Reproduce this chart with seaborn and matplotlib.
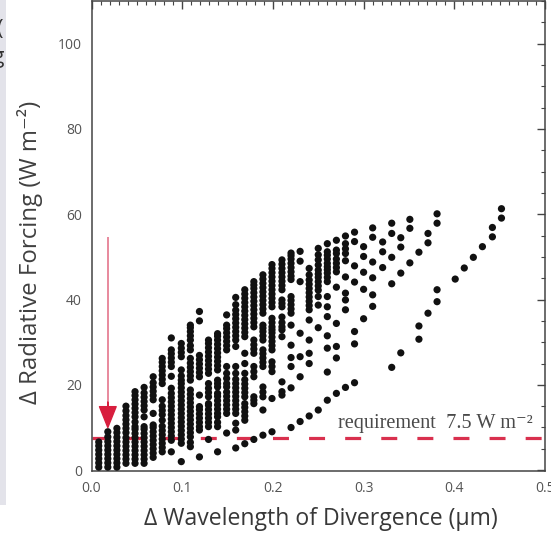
import matplotlib
matplotlib.use('Agg')
import matplotlib.pyplot as plt
import seaborn as sns
import pandas as pd
from matplotlib.patches import Rectangle
from matplotlib.ticker import MultipleLocator

# ---- data: column positions (Δ wavelength of divergence, µm) ----
column_x = [0.008, 0.018, 0.028, 0.038, 0.048, 0.058, 0.068, 0.078, 0.088, 0.099,
            0.109, 0.119, 0.129, 0.139, 0.149, 0.159, 0.169, 0.179, 0.189, 0.199,
            0.210, 0.220, 0.230, 0.240, 0.250, 0.260, 0.270, 0.280, 0.290, 0.300,
            0.310, 0.321, 0.331, 0.341, 0.351, 0.361, 0.371, 0.381, 0.391, 0.401,
            0.411, 0.421, 0.431, 0.442, 0.452]

# ---- Δ radiative forcing values (W m-2) for each column ----
f00 = [0.7, 1.7, 2.7, 3.7, 4.7, 5.7, 6.6]
f01 = [0.7, 1.7, 2.7, 3.7, 4.7, 5.7, 6.7, 7.8, 9.0]
f02 = [0.7, 1.7, 2.7, 3.7, 4.7, 5.7, 6.7, 7.7, 8.8, 9.8]
f03 = [1.6, 2.6, 3.6, 4.6, 5.6, 6.6, 7.6, 8.8, 9.8, 10.8, 11.8, 12.8, 13.9, 15.0]
f04 = [1.6, 2.6, 3.6, 4.6, 5.6, 6.6, 7.6, 8.6, 9.6, 10.2, 11.3, 12.5, 13.5, 14.5, 15.5, 16.5, 17.5, 18.4]
f05 = [1.6, 2.6, 3.6, 4.6, 5.6, 6.6, 7.6, 8.6, 9.6, 10.2, 12.5, 14.1, 15.1, 16.1, 17.1, 18.1, 19.4]
f06 = [3.0, 4.0, 5.0, 6.0, 7.0, 8.0, 9.0, 10.0, 10.6, 13.3, 16.5, 17.5, 18.5, 19.5, 20.5, 21.9]
f07 = [4.3, 5.3, 6.3, 7.3, 8.3, 9.3, 10.3, 11.7, 13.0, 14.0, 15.0, 16.5, 20.3, 21.3, 22.3, 23.3, 24.3, 25.3, 26.2]
f08 = [4.3, 7.0, 8.0, 9.0, 10.0, 11.0, 12.0, 13.0, 14.0, 15.0, 16.0, 17.0, 18.0, 19.2, 22.0, 24.3, 25.3, 26.3, 27.3, 28.2, 31.0]
f09 = [2.0, 6.3, 7.3, 8.3, 9.3, 10.3, 11.3, 12.3, 13.3, 14.3, 15.3, 16.3, 17.3, 18.3, 19.3, 20.3, 21.1, 22.1, 23.5,
       26.6, 27.6, 28.6, 29.7]
f10 = [5.5, 6.5, 7.8, 8.8, 9.8, 10.8, 11.8, 12.8, 13.8, 14.8, 15.8, 16.8, 17.8, 18.8, 21.1, 22.1, 23.1, 24.1, 25.1,
       26.2, 28.2, 29.2, 30.5, 31.5, 32.5, 33.4, 34.0]
f11 = [3.1, 9.4, 10.2, 11.2, 12.2, 13.2, 14.2, 14.9, 17.6, 21.9, 22.9, 23.9, 24.9, 25.9, 26.9, 35.0, 37.2]
f12 = [7.2, 10.2, 11.2, 12.2, 13.2, 14.2, 15.2, 15.6, 17.2, 18.2, 19.2, 20.3, 22.7, 23.7, 24.7, 25.7, 26.7, 27.7,
       28.7, 29.7, 30.5]
f13 = [4.3, 10.2, 11.2, 12.5, 13.3, 14.3, 15.3, 16.3, 17.3, 18.0, 19.5, 20.3, 21.1, 23.5, 24.5, 25.5, 26.5, 27.5,
       28.5, 29.5, 30.5, 31.4, 32.0]
f14 = [8.7, 13.3, 14.3, 15.3, 16.3, 17.3, 18.3, 19.5, 20.3, 21.5, 22.7, 24.3, 28.2, 29.2, 30.2, 31.2, 32.2, 33.2,
       34.0, 36.4]
f15 = [5.2, 9.4, 11.0, 13.3, 14.3, 15.3, 16.3, 17.3, 18.3, 19.3, 20.3, 21.3, 22.7, 24.3, 29.0, 30.5, 31.5, 32.5,
       33.5, 34.5, 35.5, 36.5, 37.5, 38.8, 40.5]
f16 = [6.2, 11.7, 12.7, 13.7, 14.7, 15.6, 17.2, 18.2, 19.2, 20.2, 21.2, 22.7, 25.0, 27.4, 31.3, 32.3, 33.3, 34.3,
       35.3, 36.3, 37.3, 38.3, 39.3, 40.3, 41.3, 42.3]
f17 = [7.2, 15.6, 16.4, 17.2, 21.9, 23.1, 24.3, 27.4, 28.4, 29.4, 30.5, 33.6, 34.6, 35.6, 36.6, 37.6, 38.6, 39.6,
       40.6, 41.6, 42.6, 43.4, 44.2]
f18 = [8.2, 14.1, 17.2, 18.3, 19.5, 24.3, 25.3, 26.3, 27.3, 28.2, 30.5, 31.5, 32.5, 33.3, 34.0, 36.8, 37.8, 38.8,
       39.8, 40.8, 41.8, 42.8, 43.8, 44.8, 45.8]
f19 = [9.0, 16.8, 23.1, 24.3, 25.4, 28.2, 29.2, 30.2, 31.2, 32.2, 32.9, 33.6, 34.6, 35.6, 38.3, 39.3, 40.3, 41.3,
       42.3, 43.3, 44.3, 45.3, 46.3, 47.3, 48.2]
f20 = [17.6, 18.4, 20.7, 31.3, 32.9, 33.6, 34.6, 35.9, 38.3, 39.1, 39.9, 42.3, 43.3, 44.3, 45.3, 46.3, 47.3, 48.3, 49.3]
f21 = [10.0, 19.3, 24.3, 26.4, 29.3, 34.0, 36.8, 37.8, 38.8, 39.8, 40.7, 44.7, 45.5, 46.5, 47.5, 48.5, 49.5, 50.3, 50.9]
f22 = [11.4, 21.9, 26.6, 32.1, 44.2, 49.0, 51.3]
f23 = [12.7, 25.0, 27.4, 30.5, 35.2, 37.6, 38.6, 39.6, 40.6, 41.6, 42.6, 43.6, 44.6, 45.8, 47.3]
f24 = [14.1, 33.4, 38.7, 40.7, 42.2, 43.2, 44.2, 45.2, 46.0, 46.9, 48.1, 49.3, 50.5, 52.0]
f25 = [16.4, 23.0, 28.6, 31.5, 36.0, 38.3, 40.7, 44.2, 45.2, 46.2, 47.0, 47.7, 48.5, 49.5, 50.4, 51.2, 53.1]
f26 = [18.0, 26.3, 29.0, 34.4, 42.9, 46.5, 47.5, 48.5, 49.5, 50.8, 51.6, 53.9]
f27 = [19.4, 37.6, 39.9, 41.5, 45.3, 49.1, 50.8, 51.9, 53.1, 54.9]
f28 = [20.5, 29.6, 32.5, 44.1, 47.9, 53.6, 55.8]
f29 = [35.5, 42.4, 46.4, 50.1, 52.4]
f30 = [38.4, 41.1, 45.1, 48.8, 54.6, 56.8]
f31 = [47.5, 51.2, 53.5]
f32 = [24.1, 43.7, 49.9, 55.5, 57.9]
f33 = [27.5, 46.2, 52.3, 54.5]
f34 = [48.6, 56.7, 58.8]
f35 = [30.7, 33.8, 51.1]
f36 = [36.8, 53.3, 55.5]
f37 = [39.5, 42.3, 57.9, 60.1]
f38 = []
f39 = [44.8]
f40 = [47.4]
f41 = [49.9]
f42 = [52.4]
f43 = [54.7, 56.9]
f44 = [59.1, 61.3]

requirement_value = 7.5
arrow_x = 0.018
arrow_top, arrow_tip = 54.7, 10.0

x_ticks = [0.0, 0.1, 0.2, 0.3, 0.4, 0.5]
x_tick_labels = ['0.0', '0.1', '0.2', '0.3', '0.4', '0.5']
y_ticks = [0, 20, 40, 60, 80, 100]

columns = [f00, f01, f02, f03, f04, f05, f06, f07, f08, f09, f10, f11, f12, f13, f14,
           f15, f16, f17, f18, f19, f20, f21, f22, f23, f24, f25, f26, f27, f28, f29,
           f30, f31, f32, f33, f34, f35, f36, f37, f38, f39, f40, f41, f42, f43, f44]

rows = []
for xv, ys in zip(column_x, columns):
    for yv in ys:
        rows.append((xv, yv))
df = pd.DataFrame(rows, columns=['dw', 'drf'])

# ---- figure ----
sns.set_style('white')
plt.rcParams['font.family'] = ['Open Sans', 'DejaVu Sans']

fig = plt.figure(figsize=(5.51, 5.33), dpi=100)
W, H = 551, 533
ax = fig.add_axes([91.5 / W, (H - 471) / H, (545 - 91.5) / W, 470 / H])

# left grey strip (cropped neighbouring panel)
fig.patches.append(Rectangle((0, (H - 505) / H), 6 / W, 505 / H, transform=fig.transFigure,
                             facecolor='#e3e3ea', edgecolor='none', zorder=0))
fig.text(-0.007, 1 - 30 / H, '(', fontsize=16, color='#333', va='center', ha='left')
fig.text(-0.014, 1 - 57 / H, 'g', fontsize=15, color='#333', va='center', ha='left')

red_line = '#d9304e'
ax.axhline(requirement_value, color=red_line, lw=2.3, dashes=(5.0, 6.3), zorder=1)

sns.scatterplot(data=df, x='dw', y='drf', s=27, color='#111111', edgecolor='none',
                linewidth=0, ax=ax, zorder=3, legend=False)

# red arrow
ax.plot([arrow_x, arrow_x], [arrow_top, arrow_tip + 3], color='#e26a82', lw=1.1, zorder=4,
        solid_capstyle='butt')
ax.annotate('', xy=(arrow_x, arrow_tip), xytext=(arrow_x, arrow_tip + 6),
            arrowprops=dict(facecolor='#d81e3e', edgecolor='#d81e3e', width=0.01,
                            headwidth=12, headlength=15, shrink=0), zorder=5)

ax.text(0.272, 9.9, 'requirement  7.5 W m\u207b\u00b2', fontsize=14.6,
        family=['Liberation Serif', 'DejaVu Serif'], color='#4a4a4a', ha='left', va='baseline')

ax.set_xlim(0, 0.5)
ax.set_ylim(-0.2, 110)
ax.set_xticks(x_ticks)
ax.set_xticklabels(x_tick_labels)
ax.set_yticks(y_ticks)
ax.xaxis.set_minor_locator(MultipleLocator(0.01))
ax.yaxis.set_minor_locator(MultipleLocator(5))
ax.tick_params(which='both', direction='in', top=True, right=True, colors='#444444',
               labelcolor='#555555', labelsize=10)
ax.tick_params(which='major', length=6, width=1.0, pad=7)
ax.tick_params(which='minor', length=3, width=0.8)
for sp in ax.spines.values():
    sp.set_color('#444444')
    sp.set_linewidth(1.1)

ax.set_xlabel('\u0394 Wavelength of Divergence (\u03bcm)', fontsize=16.6, color='#383838')
ax.xaxis.set_label_coords((321 - 91.5) / 453.5, -(519 - 471) / 470)
ax.set_ylabel('\u0394 Radiative Forcing (W m\u207b\u00b2)', fontsize=17.3, color='#404040')
ax.yaxis.set_label_coords((30 - 91.5) / 453.5, 0.466)
ax.xaxis.label.set_va('center')
ax.yaxis.label.set_va('center')

fig.savefig('out.png', dpi=100)
